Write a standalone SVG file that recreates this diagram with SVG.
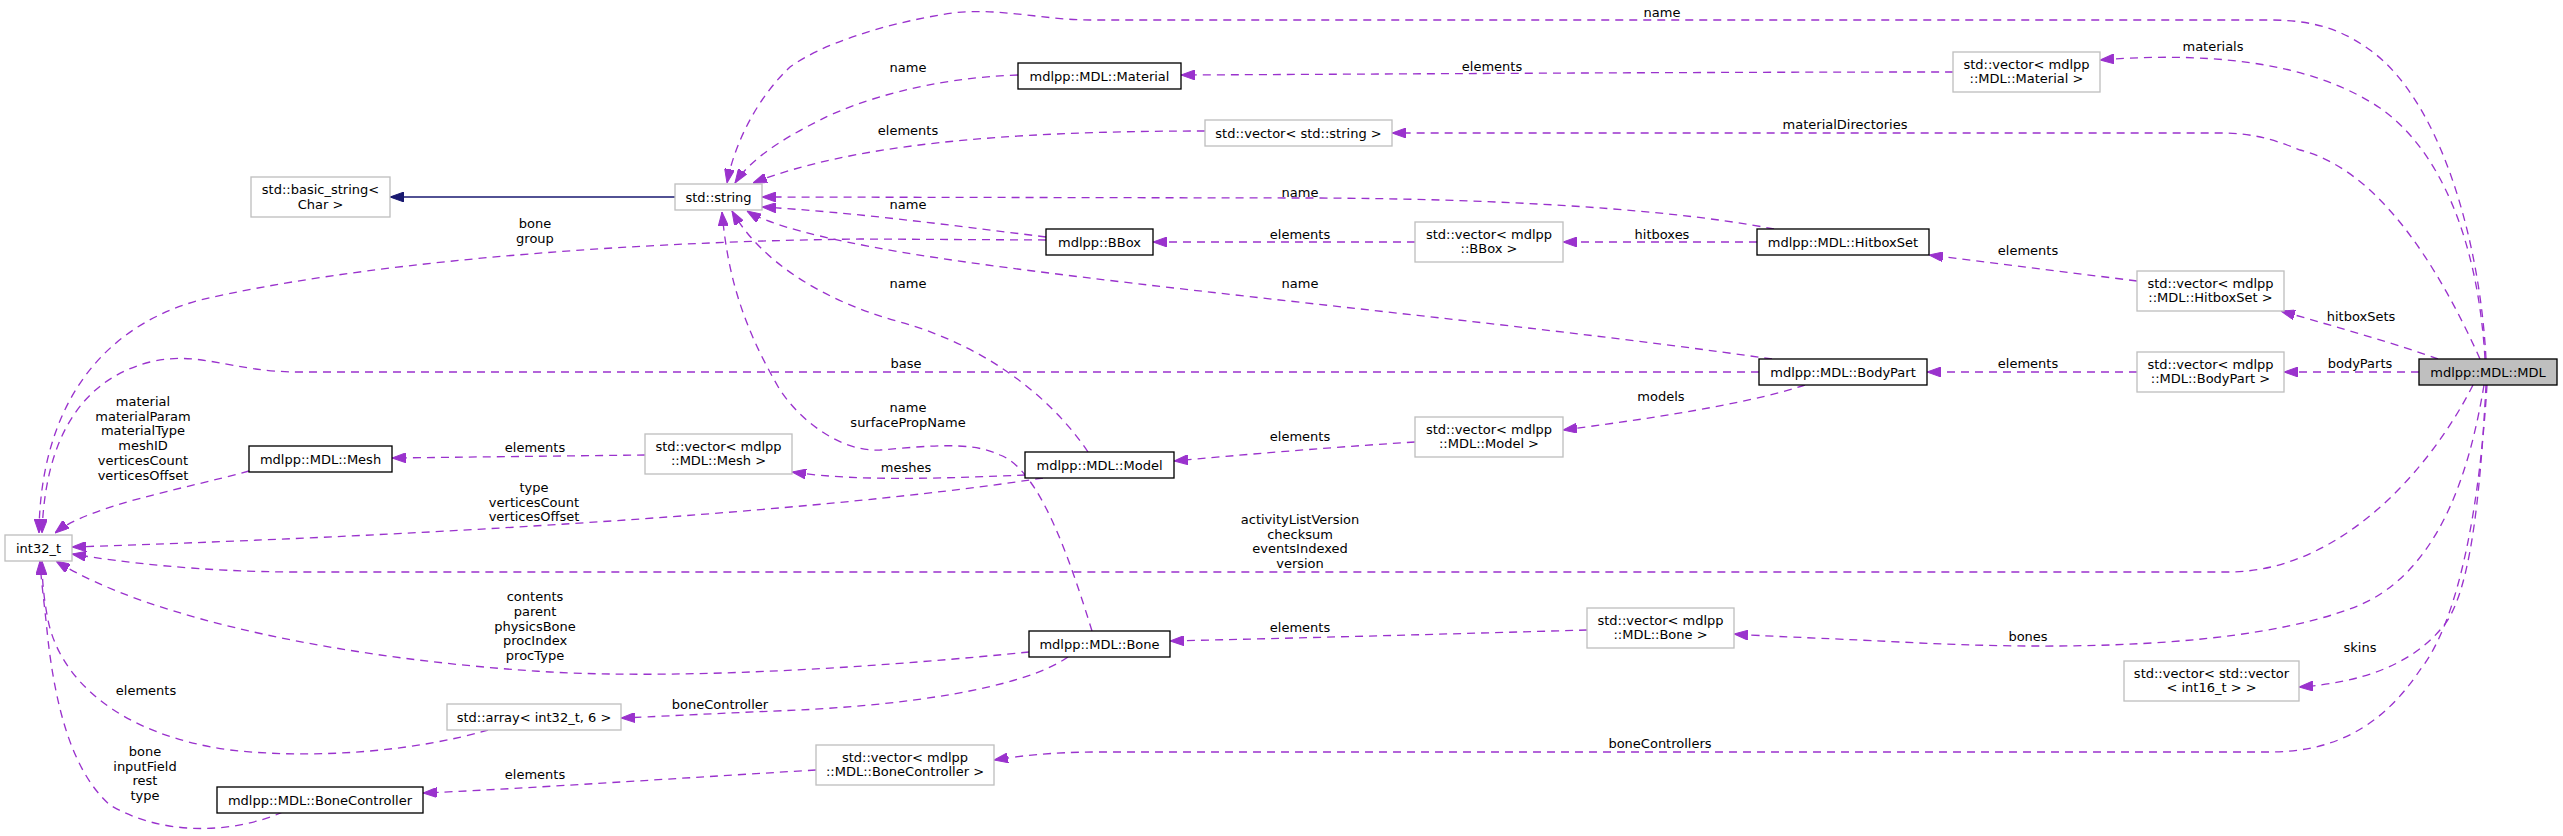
<svg xmlns="http://www.w3.org/2000/svg" width="2563" height="836" viewBox="0 0 2563 836">
<style>
text{font-family:"DejaVu Sans","Liberation Sans",sans-serif;font-size:13px;fill:#000;text-anchor:middle}
.n rect{fill:#fff;stroke:#000;stroke-width:1.33}
.g rect{fill:#fff;stroke:#bfbfbf;stroke-width:1.33}
.root rect{fill:#bfbfbf;stroke:#000;stroke-width:1.33}
.e{fill:none;stroke:#9a32cd;stroke-width:1.33;stroke-dasharray:8,6;marker-end:url(#ap)}
.inh{fill:none;stroke:#191970;stroke-width:1.33;marker-end:url(#ab)}
</style>
<defs>
<marker id="ap" viewBox="0 0 14 10" refX="14" refY="5" markerWidth="14" markerHeight="10" markerUnits="userSpaceOnUse" orient="auto"><path d="M0,0L14,5L0,10z" fill="#9a32cd" stroke="#9a32cd" stroke-width="1"/></marker>
<marker id="ab" viewBox="0 0 14 10" refX="14" refY="5" markerWidth="14" markerHeight="10" markerUnits="userSpaceOnUse" orient="auto"><path d="M0,0L14,5L0,10z" fill="#191970" stroke="#191970" stroke-width="1"/></marker>
</defs>
<g id="edges">
<path class="inh" d="M675,197L390,197"/>
<path class="e" d="M2486,359C2480,240 2440,100 2370,50C2340,28 2310,20 2270,20L1090,20C1040,20 990,5 940,15C880,25 820,45 790,67C760,95 735,140 727,183"/>
<text x="1662" y="17">name</text>
<path class="e" d="M1953,72C1700,72 1400,74 1181,75"/>
<text x="1492" y="71">elements</text>
<path class="e" d="M2485,359C2478,240 2440,150 2380,108C2320,68 2230,50 2100,60"/>
<text x="2213" y="51">materials</text>
<path class="e" d="M1205,131C1000,131 850,145 753,183"/>
<text x="908" y="135">elements</text>
<path class="e" d="M1018,75C930,78 860,100 820,120C780,140 750,160 735,183"/>
<text x="908" y="72">name</text>
<path class="e" d="M1774,229C1650,205 1450,198 1300,198L762,197"/>
<text x="1300" y="197">name</text>
<path class="e" d="M1046,237C950,225 850,212 762,207"/>
<text x="908" y="209">name</text>
<path class="e" d="M1415,242L1153,242"/>
<text x="1300" y="239">elements</text>
<path class="e" d="M1757,242L1563,242"/>
<text x="1662" y="239">hitboxes</text>
<path class="e" d="M2137,281L1929,255"/>
<text x="2028" y="255">elements</text>
<path class="e" d="M2438,359C2400,345 2340,328 2281,311"/>
<text x="2361" y="321">hitboxSets</text>
<path class="e" d="M2480,359C2440,270 2380,170 2300,150C2270,138 2250,133 2220,133L1392,133"/>
<text x="1845" y="129">materialDirectories</text>
<path class="e" d="M1046,240L860,239C600,242 350,265 200,300C90,330 40,420 39,533"/>
<text x="535" y="228">bone</text>
<text x="535" y="243">group</text>
<path class="e" d="M1759,372L300,372C230,372 200,350 150,362C80,380 45,440 42,533"/>
<text x="906" y="368">base</text>
<path class="e" d="M1772,359C1500,320 1100,285 900,252C820,238 770,225 747,211"/>
<text x="1300" y="288">name</text>
<path class="e" d="M2137,372L1927,372"/>
<text x="2028" y="368">elements</text>
<path class="e" d="M2419,372L2284,372"/>
<text x="2360" y="368">bodyParts</text>
<path class="e" d="M1805,385C1760,400 1680,415 1563,430"/>
<text x="1661" y="401">models</text>
<path class="e" d="M1415,442C1320,448 1240,455 1174,461"/>
<text x="1300" y="441">elements</text>
<path class="e" d="M1088,452C1060,410 1000,350 900,322C820,300 760,260 732,211"/>
<text x="908" y="288">name</text>
<path class="e" d="M1025,475C950,478 860,482 792,472"/>
<text x="906" y="472">meshes</text>
<path class="e" d="M1043,478C900,500 600,530 72,547"/>
<text x="534" y="492">type</text>
<text x="534" y="507">verticesCount</text>
<text x="534" y="521">verticesOffset</text>
<path class="e" d="M645,455C560,456 470,457 392,458"/>
<text x="535" y="452">elements</text>
<path class="e" d="M249,471C180,490 90,505 55,533"/>
<text x="143" y="406">material</text>
<text x="143" y="421">materialParam</text>
<text x="143" y="435">materialType</text>
<text x="143" y="450">meshID</text>
<text x="143" y="465">verticesCount</text>
<text x="143" y="480">verticesOffset</text>
<path class="e" d="M2473,385C2430,470 2340,572 2228,572L300,572C200,572 120,562 72,554"/>
<text x="1300" y="524">activityListVersion</text>
<text x="1300" y="539">checksum</text>
<text x="1300" y="553">eventsIndexed</text>
<text x="1300" y="568">version</text>
<path class="e" d="M1092,631C1070,560 1040,470 1000,455C970,440 920,447 880,450C840,452 800,420 780,390C745,330 728,280 722,212"/>
<text x="908" y="412">name</text>
<text x="908" y="427">surfacePropName</text>
<path class="e" d="M1587,630C1450,634 1300,638 1170,641"/>
<text x="1300" y="632">elements</text>
<path class="e" d="M2484,385C2470,470 2440,570 2360,605C2250,650 2050,650 1900,642C1820,638 1760,636 1734,634"/>
<text x="2028" y="641">bones</text>
<path class="e" d="M1029,652C900,665 700,680 550,672C350,660 150,620 56,561"/>
<text x="535" y="601">contents</text>
<text x="535" y="616">parent</text>
<text x="535" y="631">physicsBone</text>
<text x="535" y="645">procIndex</text>
<text x="535" y="660">procType</text>
<path class="e" d="M1068,657C1020,690 900,705 800,710C700,714 650,717 621,718"/>
<text x="720" y="709">boneController</text>
<path class="e" d="M488,730C420,750 320,760 230,750C120,735 60,680 48,620C44,600 42,580 42,561"/>
<text x="146" y="695">elements</text>
<path class="e" d="M283,812C230,835 160,835 110,805C70,770 55,700 48,640C44,600 41,580 40,561"/>
<text x="145" y="756">bone</text>
<text x="145" y="771">inputField</text>
<text x="145" y="785">rest</text>
<text x="145" y="800">type</text>
<path class="e" d="M816,770C650,780 500,790 423,793"/>
<text x="535" y="779">elements</text>
<path class="e" d="M2487,385C2480,500 2460,620 2420,670C2380,730 2330,752 2270,752L1100,752C1050,752 1020,756 994,760"/>
<text x="1660" y="748">boneControllers</text>
<path class="e" d="M2486,385C2480,500 2470,600 2440,630C2410,665 2360,683 2299,687"/>
<text x="2360" y="652">skins</text>
</g>
<g id="n_basic_string" class="g"><rect x="251" y="177" width="139" height="40"/><text x="320.5" y="194.2">std::basic_string&lt;</text><text x="320.5" y="208.8">Char &gt;</text></g>
<g id="n_string" class="g"><rect x="675" y="184" width="87" height="26"/><text x="718.5" y="201.5">std::string</text></g>
<g id="n_int32" class="g"><rect x="5" y="535" width="67" height="26"/><text x="38.5" y="552.5">int32_t</text></g>
<g id="n_material" class="n"><rect x="1018" y="63" width="163" height="26"/><text x="1099.5" y="80.5">mdlpp::MDL::Material</text></g>
<g id="n_vec_material" class="g"><rect x="1953" y="52" width="147" height="40"/><text x="2026.5" y="68.7">std::vector&lt; mdlpp</text><text x="2026.5" y="83.3">::MDL::Material &gt;</text></g>
<g id="n_vec_string" class="g"><rect x="1205" y="120" width="187" height="26"/><text x="1298.5" y="137.5">std::vector&lt; std::string &gt;</text></g>
<g id="n_bbox" class="n"><rect x="1046" y="229" width="107" height="26"/><text x="1099.5" y="246.5">mdlpp::BBox</text></g>
<g id="n_vec_bbox" class="g"><rect x="1415" y="222" width="148" height="40"/><text x="1489" y="238.7">std::vector&lt; mdlpp</text><text x="1489" y="253.3">::BBox &gt;</text></g>
<g id="n_hitboxset" class="n"><rect x="1757" y="229" width="172" height="26"/><text x="1843" y="246.5">mdlpp::MDL::HitboxSet</text></g>
<g id="n_vec_hitboxset" class="g"><rect x="2137" y="271" width="147" height="40"/><text x="2210.5" y="287.7">std::vector&lt; mdlpp</text><text x="2210.5" y="302.3">::MDL::HitboxSet &gt;</text></g>
<g id="n_bodypart" class="n"><rect x="1759" y="359" width="168" height="26"/><text x="1843" y="376.5">mdlpp::MDL::BodyPart</text></g>
<g id="n_vec_bodypart" class="g"><rect x="2137" y="352" width="147" height="40"/><text x="2210.5" y="368.7">std::vector&lt; mdlpp</text><text x="2210.5" y="383.3">::MDL::BodyPart &gt;</text></g>
<g id="n_mdl" class="root"><rect x="2419" y="359" width="138" height="26"/><text x="2488" y="376.5">mdlpp::MDL::MDL</text></g>
<g id="n_mesh" class="n"><rect x="249" y="446" width="143" height="26"/><text x="320.5" y="463.5">mdlpp::MDL::Mesh</text></g>
<g id="n_vec_mesh" class="g"><rect x="645" y="434" width="147" height="40"/><text x="718.5" y="450.7">std::vector&lt; mdlpp</text><text x="718.5" y="465.3">::MDL::Mesh &gt;</text></g>
<g id="n_model" class="n"><rect x="1025" y="452" width="149" height="26"/><text x="1099.5" y="469.5">mdlpp::MDL::Model</text></g>
<g id="n_vec_model" class="g"><rect x="1415" y="417" width="148" height="40"/><text x="1489" y="433.7">std::vector&lt; mdlpp</text><text x="1489" y="448.3">::MDL::Model &gt;</text></g>
<g id="n_bone" class="n"><rect x="1029" y="631" width="141" height="26"/><text x="1099.5" y="648.5">mdlpp::MDL::Bone</text></g>
<g id="n_vec_bone" class="g"><rect x="1587" y="608" width="147" height="40"/><text x="1660.5" y="624.7">std::vector&lt; mdlpp</text><text x="1660.5" y="639.3">::MDL::Bone &gt;</text></g>
<g id="n_array" class="g"><rect x="447" y="704" width="174" height="26"/><text x="534" y="721.5">std::array&lt; int32_t, 6 &gt;</text></g>
<g id="n_bonecontroller" class="n"><rect x="217" y="787" width="206" height="26"/><text x="320" y="804.5">mdlpp::MDL::BoneController</text></g>
<g id="n_vec_bonecontroller" class="g"><rect x="816" y="745" width="178" height="40"/><text x="905" y="761.7">std::vector&lt; mdlpp</text><text x="905" y="776.3">::MDL::BoneController &gt;</text></g>
<g id="n_vec_vec" class="g"><rect x="2124" y="661" width="175" height="40"/><text x="2211.5" y="677.7">std::vector&lt; std::vector</text><text x="2211.5" y="692.3">&lt; int16_t &gt; &gt;</text></g>
</svg>
